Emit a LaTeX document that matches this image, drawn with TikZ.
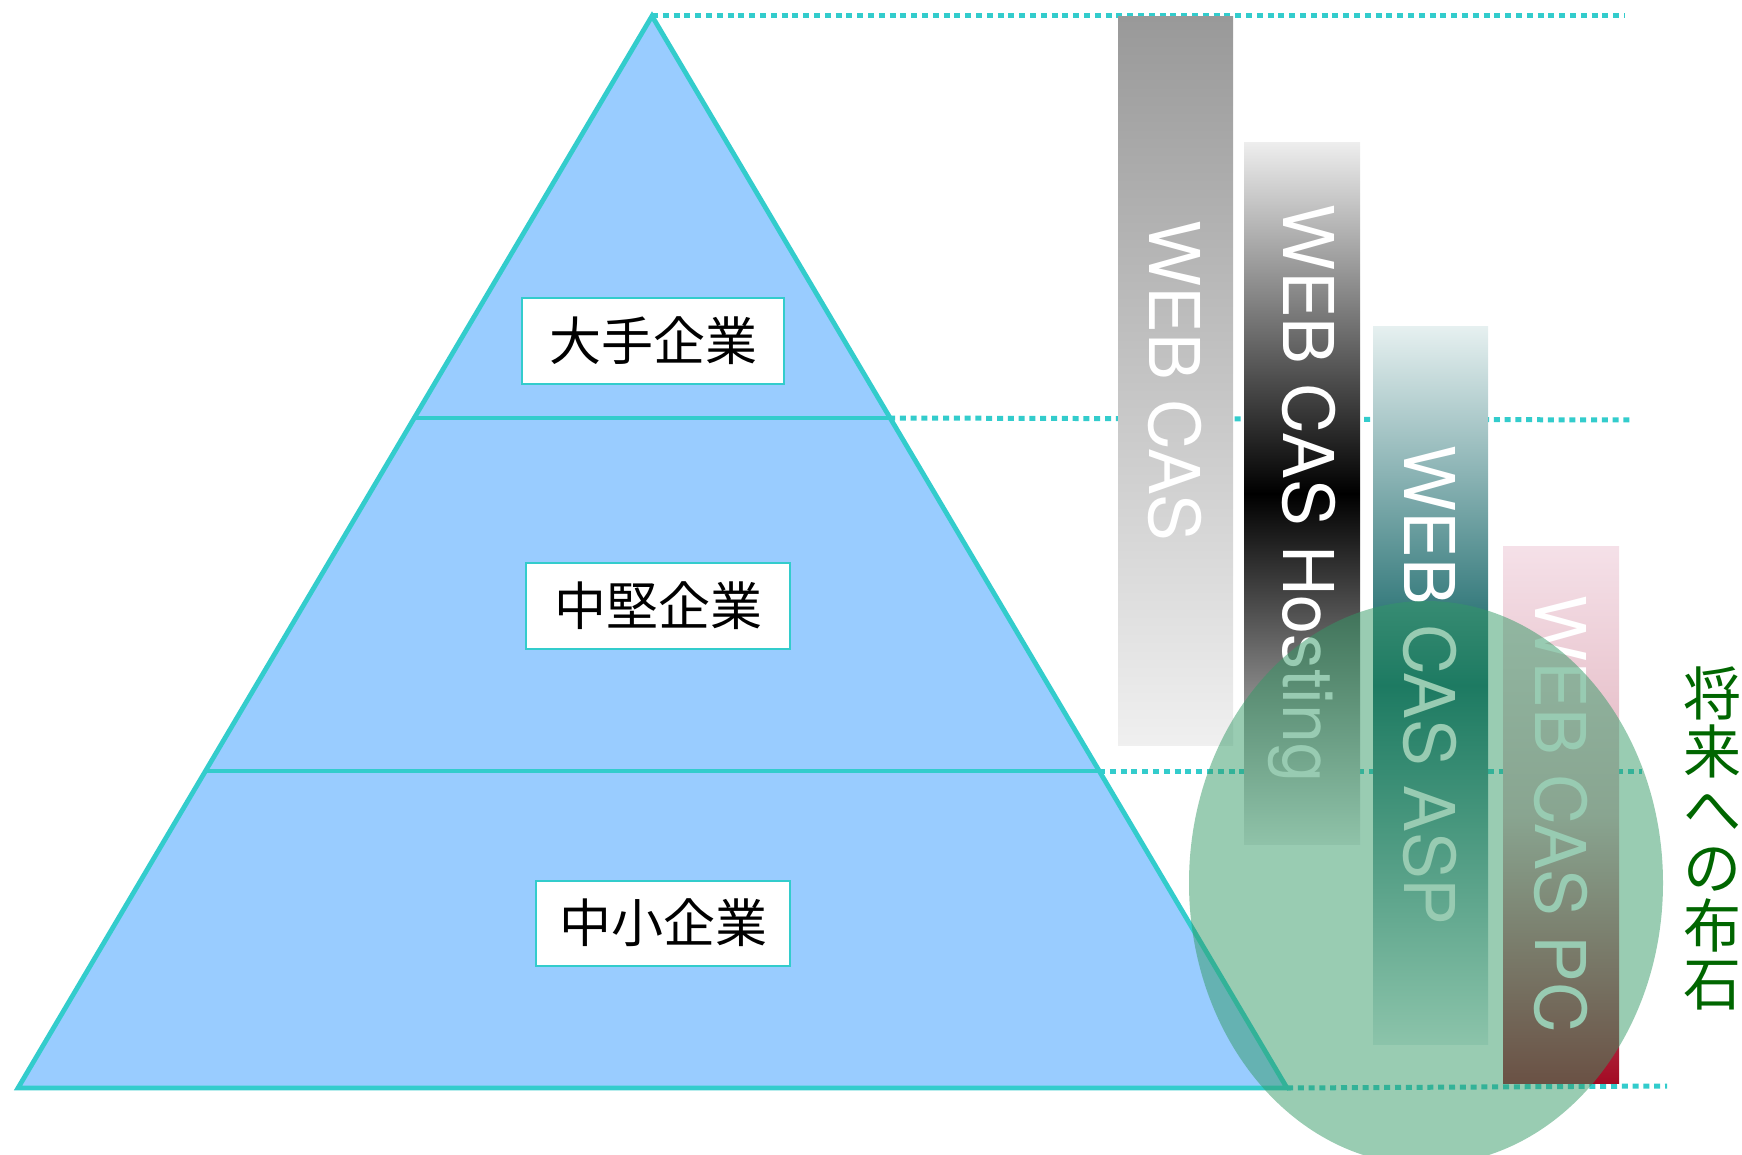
\documentclass[tikz,border=0pt]{standalone}
\usepackage{fontspec}
\setmainfont{TeX Gyre Heros}
\newfontfamily\jpfont{Noto Sans CJK JP}
\definecolor{rim}{HTML}{33CCCC}
\definecolor{pyramid}{HTML}{99CCFF}
\definecolor{blob}{HTML}{339966}
\definecolor{stone}{HTML}{006600}
\definecolor{aspmid}{rgb}{0.03,0.36,0.37}
\definecolor{asptop}{rgb}{0.90,0.94,0.94}
\definecolor{pctop}{rgb}{0.96,0.88,0.91}
\definecolor{pcmid}{rgb}{0.88,0.70,0.74}
\definecolor{pcbot}{rgb}{0.64,0.04,0.14}

\begin{document}
\begin{tikzpicture}[x=0.5pt,y=-0.5pt]
\tikzstyle{guide}=[rim, line width=2.5pt, dash pattern=on 3pt off 2.4pt]
\tikzstyle{tier}=[draw=rim, line width=1pt, fill=white, inner sep=0pt, font=\jpfont\fontsize{26}{26}\selectfont]
\tikzstyle{bar}=[rotate=-90, inner sep=0pt, text=white, font=\fontsize{35}{35}\selectfont]
\clip (0,0) rectangle (1742,1155);
\coordinate (apex) at (652,16);
\coordinate (bl) at (18,1088);
\coordinate (br) at (1287,1088);
\coordinate (ml) at (415,418);
\coordinate (mr) at (889,418);
\coordinate (ll) at (207,771);
\coordinate (lr) at (1099,771);
\coordinate (e1) at (1625,16);
\coordinate (e2) at (1633,420);
\coordinate (e3) at (1642,771);
\coordinate (e4) at (1667,1086);
\draw [guide] (apex) -- (e1);
\draw [guide] (mr) -- (e2);
\draw [guide] (lr) -- (e3);
\draw [guide] (br) -- (e4);
\filldraw [fill=pyramid, draw=rim, line width=2.4pt, line join=miter] (apex) -- (bl) -- (br) -- cycle;
\draw [rim, line width=2.4pt] (ml) -- (mr);
\draw [rim, line width=2.4pt] (ll) -- (lr);
\node [tier, minimum width=131pt, minimum height=43pt] (large) at (653,341) {大手企業};
\node [tier, minimum width=132pt, minimum height=43pt] (mid) at (658,606) {中堅企業};
\node [tier, minimum width=127pt, minimum height=42.5pt] (small) at (663,923) {中小企業};
\node [bar, minimum width=364pt, minimum height=57.5pt, top color=black!40, bottom color=black!6] (cas) at (1175.5,381) {WEB CAS};
\node [bar, minimum width=350.5pt, minimum height=58pt, top color=black!7, bottom color=black!7, middle color=black] (hosting) at (1302,493.5) {WEB CAS Hosting};
\node [bar, minimum width=358.5pt, minimum height=57.5pt, top color=asptop, bottom color=asptop, middle color=aspmid] (asp) at (1430.5,685.5) {WEB CAS ASP};
\node [bar, minimum width=268.5pt, minimum height=58pt, top color=pctop, bottom color=pcbot, middle color=pcmid] (pc) at (1561,814.5) {WEB CAS PC};
\fill [blob, fill opacity=0.5] (1426,883) ellipse [x radius=118.5pt, y radius=141pt];
\node [inner sep=0pt, align=center, text=stone, font=\jpfont\fontsize{29}{29}\selectfont] (future) at (1712,838) {将\\来\\へ\\の\\布\\石};
\end{tikzpicture}
\end{document}
